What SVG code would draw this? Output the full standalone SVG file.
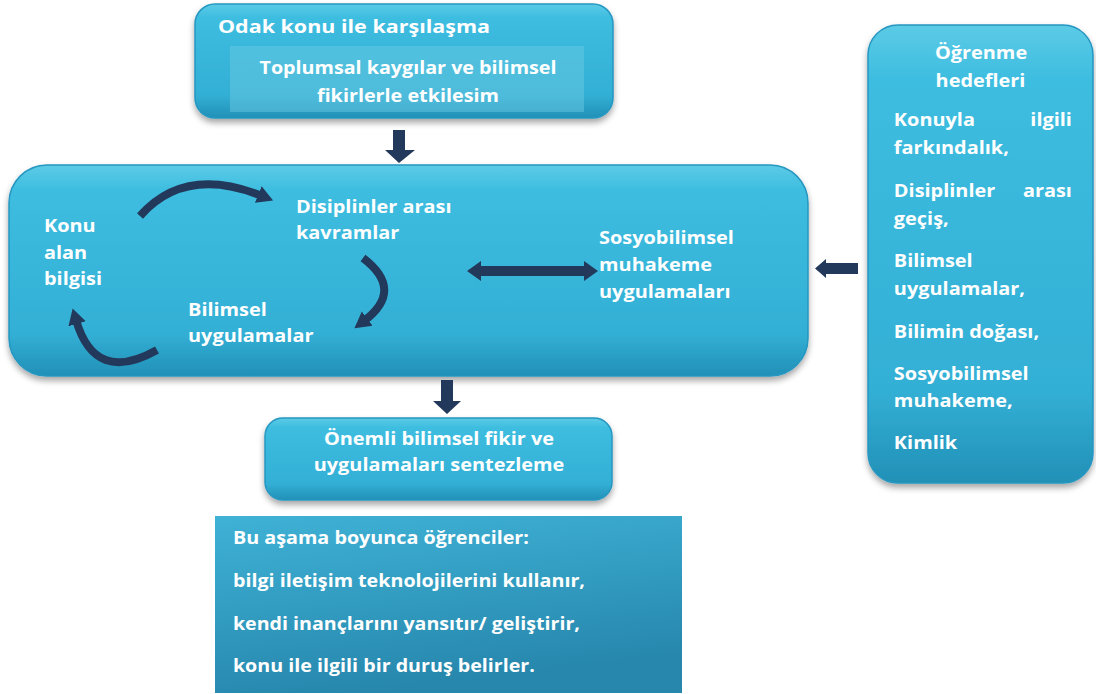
<svg xmlns="http://www.w3.org/2000/svg" width="1096" height="694" viewBox="0 0 1096 694">
<defs>
<linearGradient id="boxg" x1="0" y1="0" x2="0" y2="1">
<stop offset="0" stop-color="#5ccbe6"/>
<stop offset="0.12" stop-color="#3dbde0"/>
<stop offset="0.8" stop-color="#33afd5"/>
<stop offset="1" stop-color="#2290b7"/>
</linearGradient>
<linearGradient id="textg" x1="0" y1="0" x2="0.3" y2="1">
<stop offset="0" stop-color="#3fb2d6"/>
<stop offset="1" stop-color="#2787ad"/>
</linearGradient>
<filter id="sh" x="-10%" y="-10%" width="120%" height="130%">
<feDropShadow dx="0" dy="4" stdDeviation="3" flood-color="#000" flood-opacity="0.35"/>
</filter>
<marker id="ah" markerUnits="userSpaceOnUse" markerWidth="22" markerHeight="22" refX="4" refY="11" orient="auto">
<path d="M0,2 L16,11 L0,20 Z" fill="#23395b"/>
</marker>
<style>
.box{fill:url(#boxg);stroke:#2697c0;stroke-width:1.5;filter:url(#sh)}
.t{font-family:"Open Sans","Liberation Sans",sans-serif;font-weight:bold;fill:#ffffff;font-size:17px}
.big{font-size:18px}
.tc{text-anchor:middle}
.te{text-anchor:end}
.arr{fill:#23395b}
.arc{fill:none;stroke:#23395b;stroke-width:8;marker-end:url(#ah)}
</style>
</defs>
<rect width="1096" height="694" fill="#ffffff"/>

<g id="node-odak">
<rect class="box" x="195" y="4" width="418" height="114" rx="20"/>
<rect x="230" y="46" width="354" height="66" fill="#6fcde4" fill-opacity="0.45"/>
<g transform="scale(1.17 1)">
<text class="t" x="186.3" y="33" textLength="232.5" lengthAdjust="spacingAndGlyphs">Odak konu ile karşılaşma</text>
<text class="t tc big" x="348.7" y="74" textLength="253.8" lengthAdjust="spacingAndGlyphs">Toplumsal kaygılar ve bilimsel</text>
<text class="t tc big" x="348.7" y="102" textLength="155.6" lengthAdjust="spacingAndGlyphs">fikirlerle etkilesim</text>
</g>
</g>

<g id="node-main">
<rect class="box" x="9" y="165" width="799" height="211" rx="38"/>
<g transform="scale(1.17 1)">
<text class="t" x="37.6" y="232">Konu</text>
<text class="t" x="37.6" y="259">alan</text>
<text class="t" x="37.6" y="285">bilgisi</text>
<text class="t" x="253" y="213">Disiplinler arası</text>
<text class="t" x="253" y="239">kavramlar</text>
<text class="t" x="160.7" y="316">Bilimsel</text>
<text class="t" x="160.7" y="342">uygulamalar</text>
<text class="t" x="512" y="244">Sosyobilimsel</text>
<text class="t" x="512" y="271">muhakeme</text>
<text class="t" x="512" y="298">uygulamaları</text>
</g>
</g>

<g id="node-hedefler">
<rect class="box" x="868" y="25" width="225" height="458" rx="30"/>
<g transform="scale(1.17 1)">
<text class="t tc" x="838.5" y="59">Öğrenme</text>
<text class="t tc" x="838" y="87">hedefleri</text>
<text class="t" x="764" y="126">Konuyla</text>
<text class="t te" x="916.2" y="126">ilgili</text>
<text class="t" x="764" y="154">farkındalık,</text>
<text class="t" x="764" y="197">Disiplinler</text>
<text class="t te" x="916.2" y="197">arası</text>
<text class="t" x="764" y="225">geçiş,</text>
<text class="t" x="764" y="267">Bilimsel</text>
<text class="t" x="764" y="295">uygulamalar,</text>
<text class="t" x="764" y="338">Bilimin doğası,</text>
<text class="t" x="764" y="380">Sosyobilimsel</text>
<text class="t" x="764" y="407">muhakeme,</text>
<text class="t" x="764" y="449">Kimlik</text>
</g>
</g>

<g id="node-sentez">
<rect class="box" x="265" y="418" width="347" height="82" rx="18"/>
<g transform="scale(1.17 1)">
<text class="t tc" x="375.2" y="445">Önemli bilimsel fikir ve</text>
<text class="t tc" x="375.2" y="471">uygulamaları sentezleme</text>
</g>
</g>

<g id="node-ogrenciler">
<rect x="215" y="516" width="467" height="177" fill="url(#textg)"/>
<g transform="scale(1.17 1)">
<text class="t" x="199.1" y="544" textLength="253" lengthAdjust="spacingAndGlyphs">Bu aşama boyunca öğrenciler:</text>
<text class="t" x="199.1" y="587" textLength="300.9" lengthAdjust="spacingAndGlyphs">bilgi iletişim teknolojilerini kullanır,</text>
<text class="t" x="199.1" y="630" textLength="296.6" lengthAdjust="spacingAndGlyphs">kendi inançlarını yansıtır/ geliştirir,</text>
<text class="t" x="199.1" y="672" textLength="258.1" lengthAdjust="spacingAndGlyphs">konu ile ilgili bir duruş belirler.</text>
</g>
</g>

<g id="connectors">
<path class="arr" d="M393,130 H405 V150 H415 L399,163 L385,150 H393 Z"/>
<path class="arr" d="M441,380 H453 V401 H461 L447,414 L433,401 H441 Z"/>
<path class="arr" d="M858,263 V274 H826 V278 L815,268.5 L826,259 V263 Z"/>
<path class="arr" d="M467,271 L481,261 V266 H584 V261 L598,271 L584,281 V276 H481 V281 Z"/>
<path class="arc" d="M140,216 Q185,165 262,196"/>
<path class="arc" d="M363,258 Q405,290 364,321"/>
<path class="arc" d="M157,350 Q95,385 76,320"/>
</g>
</svg>
